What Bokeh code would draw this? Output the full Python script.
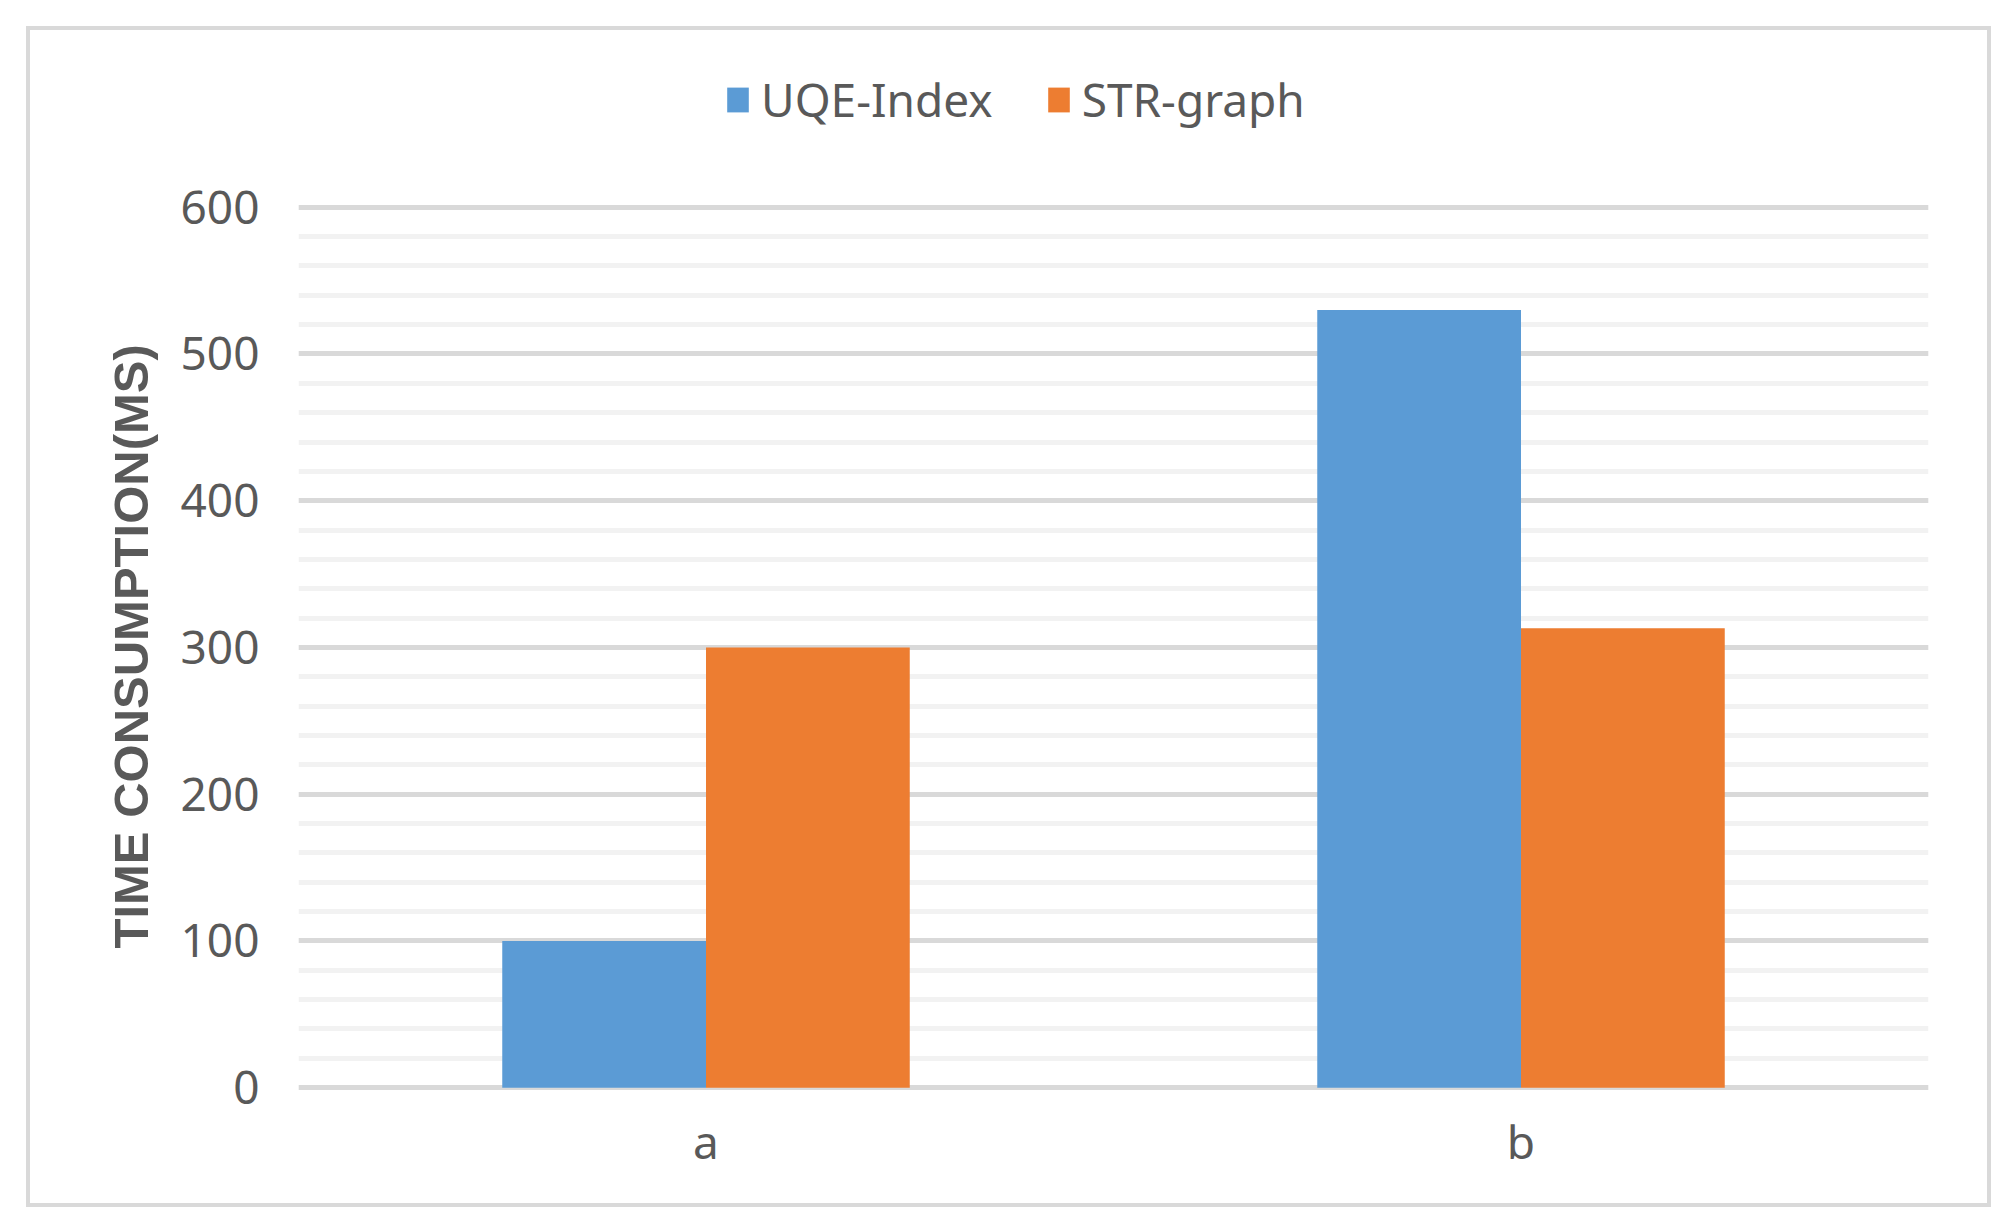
from bokeh.plotting import figure
from bokeh.models import (ColumnDataSource, FactorRange, Range1d, Legend, LegendItem,
                          FixedTicker, Title)
from bokeh.transform import dodge
from bokeh.embed import file_html
from bokeh.resources import INLINE

# ---- data ----
categories = ["a", "b"]
series_names = ["UQE-Index", "STR-graph"]
uqe_index = [100, 530]
str_graph = [300, 313]
y_major_ticks = [0, 100, 200, 300, 400, 500, 600]
y_minor_ticks = list(range(0, 601, 20))
y_title = "TIME CONSUMPTION(MS)"

BLUE = "#5B9BD5"
ORANGE = "#ED7D31"
TEXT = "#595959"
FONT = "Noto Sans"

source = ColumnDataSource(dict(cats=categories, uqe=uqe_index, strg=str_graph))

# y range extends above 600 to leave room for the legend inside the plot area
p = figure(width=1965, height=1181, output_backend="svg", toolbar_location=None,
           x_range=FactorRange(factors=categories, range_padding=0),
           y_range=Range1d(-4, 700),
           min_border_left=268, min_border_right=67,
           min_border_top=30, min_border_bottom=118,
           styles={"border": "4px solid #d9d9d9", "margin-left": "26px",
                   "margin-top": "26px"})
p.outline_line_color = None
p.background_fill_color = "white"
p.border_fill_color = "white"

r1 = p.vbar(x=dodge("cats", -0.125, range=p.x_range), top="uqe", bottom=0, width=0.25,
            source=source, fill_color=BLUE, line_color=None)
r2 = p.vbar(x=dodge("cats", 0.125, range=p.x_range), top="strg", bottom=0, width=0.25,
            source=source, fill_color=ORANGE, line_color=None)

# grid
p.xgrid.visible = False
p.yaxis.ticker = FixedTicker(ticks=y_major_ticks, minor_ticks=y_minor_ticks)
p.ygrid.grid_line_color = "#d9d9d9"
p.ygrid.grid_line_width = 5
p.ygrid.minor_grid_line_color = "#f2f2f2"
p.ygrid.minor_grid_line_width = 5
p.ygrid.level = "underlay"

# y axis
p.yaxis.axis_line_color = None
p.yaxis.major_tick_line_color = None
p.yaxis.minor_tick_line_color = None
p.yaxis.major_tick_out = 0
p.yaxis.major_label_standoff = 35
p.yaxis.major_label_text_font = FONT
p.yaxis.major_label_text_font_size = "46px"
p.yaxis.major_label_text_color = TEXT

# y axis title, placed alongside the 0..600 part of the axis
ytitle = Title(text=y_title, align="left", offset=145, standoff=39,
               text_font="Liberation Sans", text_font_style="bold",
               text_font_size="49px", text_color=TEXT)
p.add_layout(ytitle, "left")

# x axis
p.xaxis.axis_line_color = None
p.xaxis.major_tick_line_color = None
p.xaxis.minor_tick_line_color = None
p.xaxis.major_tick_out = 0
p.xaxis.major_label_standoff = 16
p.xaxis.major_label_text_font = FONT
p.xaxis.major_label_text_font_size = "46px"
p.xaxis.major_label_text_color = TEXT

# legend (top of the plot area, above the 600 gridline)
legend = Legend(items=[LegendItem(label=series_names[0], renderers=[r1]),
                       LegendItem(label=series_names[1], renderers=[r2])],
                orientation="horizontal", location=(426, 963),
                glyph_width=27, glyph_height=31, label_standoff=10, spacing=52,
                padding=0, margin=0, border_line_color=None, background_fill_alpha=0,
                label_text_font=FONT, label_text_font_size="46px", label_text_color=TEXT)
p.add_layout(legend, "center")

open("out.html", "w").write(file_html(p, INLINE))
